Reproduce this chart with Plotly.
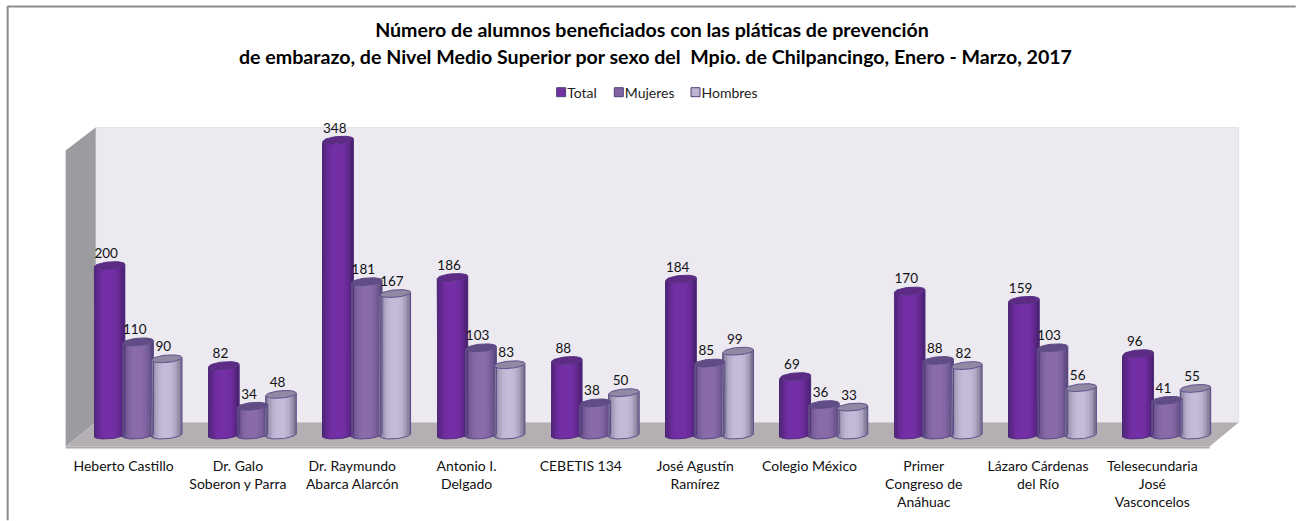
import numpy as np
import plotly.graph_objects as go

categories = ["Heberto Castillo", "Dr. Galo<br>Soberon y Parra", "Dr. Raymundo<br>Abarca Alarcón",
              "Antonio I.<br>Delgado", "CEBETIS 134", "José Agustín<br>Ramírez", "Colegio México",
              "Primer<br>Congreso de<br>Anáhuac", "Lázaro Cárdenas<br>del Río",
              "Telesecundaria<br>José<br>Vasconcelos"]
total = [200, 82, 348, 186, 88, 184, 69, 170, 159, 96]
mujeres = [110, 34, 181, 103, 38, 85, 36, 88, 103, 41]
hombres = [90, 48, 167, 83, 50, 99, 33, 82, 56, 55]
title_1 = "Número de alumnos beneficiados con las pláticas de prevención"
title_2 = "de embarazo, de Nivel Medio Superior por sexo del  Mpio. de Chilpancingo, Enero - Marzo, 2017"

W, H = 1296, 521
L, R, T, B = 81.35, W - 1224.35, 129.5, H - 452.5
YMIN, YMAX = -20, 360
px_y = (H - T - B) / (YMAX - YMIN)
px_x = (W - L - R) / 10
FONT = "Lato"

def mix(a, b, f):
    a = np.array([int(a[i:i + 2], 16) for i in (1, 3, 5)])
    b = np.array([int(b[i:i + 2], 16) for i in (1, 3, 5)])
    c = a + (b - a) * f
    return "rgb(%d,%d,%d)" % tuple(c)

series = [
    dict(name="Total", v=total, mid="#7530a8", edge="#47206f", top="#5d2a85", line="#54307f", leg="#7030a0"),
    dict(name="Mujeres", v=mujeres, mid="#8a6cab", edge="#57457a", top="#624c85", line="#5c4a85", leg="#8064a2"),
    dict(name="Hombres", v=hombres, mid="#c6bcd9", edge="#75708c", top="#8f89a3", line="#5f4f8c", leg="#bfb3d3"),
]
offs = [-0.25, 0.0, 0.25]
bw = 30.5 / px_x
e = 3.7 / px_y      # half height of the ellipse
s = 1.3 / px_y      # tilt of the ellipse
N = 22
idx = np.arange(10)
fig = go.Figure()

edges = np.linspace(-1, 1, N + 1)
for sr, off in zip(series, offs):
    v = np.array(sr["v"], float)
    for k in range(N):
        t = (edges[k] + edges[k + 1]) / 2
        front = e * np.sqrt(1 - t * t)
        f = min(1, abs(t - 0.0) ** 2.6 * 1.05)
        lower = -front + s * t
        upper = v - front + s * t
        fig.add_trace(go.Bar(
            x=idx, y=upper - lower, base=np.full(10, lower),
            width=bw / N * 1.25, offset=off + bw * (edges[k] / 2) - bw / N * 0.1,
            marker=dict(color=mix(sr["mid"], sr["edge"], f), line_width=0),
            showlegend=False, hoverinfo="skip"))
    # outline of the body and elliptical top, computed from the values
    a = np.linspace(0, 2 * np.pi, 41)
    ox, oy, ex, ey = [], [], [], []
    for i, val in enumerate(v):
        ex += list(i + off + bw / 2 * np.cos(a)) + [None]
        ey += list(val + e * np.sin(a) + s * np.cos(a)) + [None]
        b = np.linspace(np.pi, 2 * np.pi, 21)
        ox += [i + off - bw / 2] + list(i + off + bw / 2 * np.cos(b)) + [i + off + bw / 2, None]
        oy += [val - s] + list(e * np.sin(b) + s * np.cos(b)) + [val + s, None]
    fig.add_trace(go.Scatter(x=ox, y=oy, mode="lines", line=dict(color=sr["line"], width=1),
                             showlegend=False, hoverinfo="skip", cliponaxis=False))
    fig.add_trace(go.Scatter(x=ex, y=ey, mode="lines", fill="toself", fillcolor=sr["top"],
                             line=dict(color=sr["line"], width=1),
                             showlegend=False, hoverinfo="skip", cliponaxis=False))

for sr, off in zip(series, offs):
    fig.add_trace(go.Scatter(x=idx + off - 0.03, y=np.array(sr["v"], float) + 0.5 / px_y + e,
                             mode="text", text=[str(x) for x in sr["v"]],
                             textposition="top center",
                             textfont=dict(family=FONT, size=13.5, color="#111111"),
                             showlegend=False, hoverinfo="skip", cliponaxis=False))
    fig.add_trace(go.Scatter(x=[None], y=[None], mode="markers", name=sr["name"],
                             marker=dict(symbol="square", size=9, color=sr["leg"],
                                         line=dict(color="#4f3f78", width=1))))

def pxx(p): return (p - L) / (W - L - R)
def pxy(p): return (H - B - p) / (H - T - B)
def poly(points, fill, line=None, width=0):
    d = "M " + " L ".join(f"{pxx(a):.5f},{pxy(b):.5f}" for a, b in points) + " Z"
    return dict(type="path", xref="paper", yref="paper", path=d, fillcolor=fill,
                line=dict(color=line or fill, width=width), layer="below")

shapes = [
    poly([(96, 127), (1239, 127), (1239, 423), (96, 423)], "#ece9f1", "#e4e2e8", 1),
    poly([(66, 150), (96, 127), (96, 423), (66, 447)], "#9c9b9f"),
    poly([(96, 423), (1239, 423), (1210, 447), (66, 447)], "#b5afb4"),
    poly([(66, 447), (1210, 447), (1210, 449), (66, 449)], "#a9a9ab"),
    dict(type="line", xref="paper", yref="paper", x0=pxx(8), x1=pxx(1296), y0=pxy(5.5), y1=pxy(5.5),
         line=dict(color="#8c8c8c", width=2), layer="below"),
    dict(type="line", xref="paper", yref="paper", x0=pxx(8), x1=pxx(8), y0=pxy(5), y1=pxy(521),
         line=dict(color="#8c8c8c", width=2), layer="below"),
]

fig.update_layout(
    width=W, height=H, barmode="overlay", paper_bgcolor="white", plot_bgcolor="rgba(0,0,0,0)",
    margin=dict(l=L, r=R, t=T, b=B, pad=0, autoexpand=False),
    font=dict(family=FONT, size=13, color="#111111"),
    title=dict(text=title_1, x=652 / W, xanchor="center", y=1 - 30 / H, yanchor="middle",
               font=dict(family=FONT, size=19.6, color="#000000", weight="bold"), automargin=False),
    annotations=[dict(text=title_2, xref="paper", yref="paper", x=pxx(656), y=pxy(56), showarrow=False,
                      xanchor="center", yanchor="middle",
                      font=dict(family=FONT, size=19.6, color="#000000", weight="bold"))],
    legend=dict(orientation="h", x=pxx(656), xanchor="center", y=pxy(92), yanchor="middle",
                font=dict(family=FONT, size=14, color="#222222"), bgcolor="rgba(0,0,0,0)"),
    xaxis=dict(range=[-0.5, 9.5], tickmode="array", tickvals=list(idx - 0.127), ticktext=categories,
               ticks="outside", ticklen=1, tickcolor="rgba(0,0,0,0)", showgrid=False, zeroline=False,
               showline=False, tickangle=0, automargin=False,
               tickfont=dict(family=FONT, size=14, color="#111111")),
    yaxis=dict(range=[YMIN, YMAX], visible=False, showgrid=False, zeroline=False, automargin=False),
    shapes=shapes,
)
# Pull the legend swatches next to their labels, as in the reference.
post = """
document.body.style.margin='0';
var shifts=[7,-10,-28];
document.querySelectorAll('.legend .traces').forEach(function(tr,i){
  var m=/translate\\(([-\\d.]+),?\\s*([-\\d.]+)\\)/.exec(tr.getAttribute('transform')||'');
  if(m){tr.setAttribute('transform','translate('+(parseFloat(m[1])+shifts[i])+','+m[2]+')');}
  var sym=tr.querySelector('.legendsymbols');
  if(sym){sym.setAttribute('transform','translate(14,0)');}
});
var clip=document.querySelector('.legend .scrollbox');
if(clip){clip.removeAttribute('clip-path');}
"""
fig.write_html("out.html", config=dict(displayModeBar=False), post_script=post)
